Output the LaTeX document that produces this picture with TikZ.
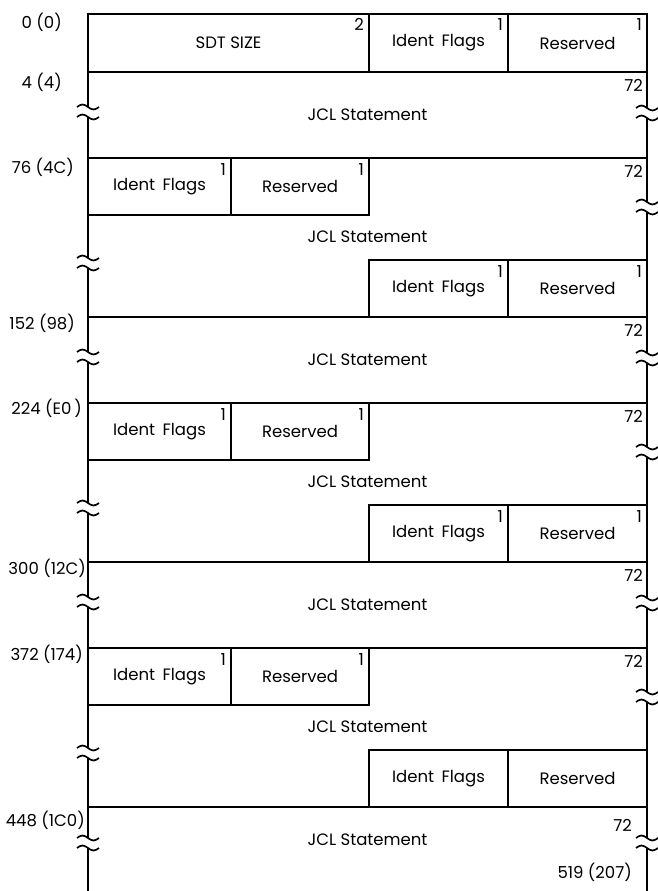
\documentclass[tikz,border=0pt]{standalone}
\usepackage{fontspec}
\setmainfont{Poppins}
\usetikzlibrary{positioning}

\begin{document}
\begin{tikzpicture}[x=1pt,y=-1pt,font=\fontsize{16.5}{18}\selectfont,
  fld/.style={draw,line width=1.3pt,inner sep=0pt,outer sep=0pt,anchor=north west,minimum height=57pt},
  len/.style={inner sep=0pt,anchor=north east},
  addr/.style={inner sep=0pt,anchor=east},
  rule/.style={line width=2.6pt},
  breakmark/.pic={\fill[white] (-2.5,-5) rectangle (2.5,5);
    \draw[line width=1.7pt] (-11,-5) sin (-5.5,-7.5) cos (0,-5) sin (5.5,-2.5) cos (11,-5);
    \draw[line width=1.7pt] (-11,5) sin (-5.5,2.5) cos (0,5) sin (5.5,7.5) cos (11,5);}]
\useasboundingbox (0,0) rectangle (657,891);
% frame
\draw[rule] (88,13) -- (88,891);
\draw[rule] (647,13) -- (647,891);
\draw[line width=2pt] (88,14) -- (647,14);
% header word
\node[fld,minimum width=281pt,minimum height=58pt] (size) at (88,14) {SDT SIZE};
\node[fld,minimum width=139pt,minimum height=58pt] (hflags) at (size.north east) {Ident\hspace{.45em}Flags};
\node[fld,minimum width=139pt,minimum height=58pt] (hres) at (hflags.north east) {Reserved};
\node[len] at ([shift={(-5,4)}]size.north east) {2};
\node[len] at ([shift={(-5,4)}]hflags.north east) {1};
\node[len] at ([shift={(-5,4)}]hres.north east) {1};
% statements
\foreach \k in {0,1,2}{
  \pgfmathsetmacro\y{72+245*\k}
  \node[fld,minimum width=559pt,minimum height=86pt] (jcl\k) at (88,\y) {JCL Statement};
  \node[len] at ([shift={(-4,7)}]jcl\k.north east) {72};
  \node[fld,minimum width=143pt] (lf\k) at (jcl\k.south west) {Ident\hspace{.45em}Flags};
  \node[fld,minimum width=138pt] (lr\k) at (lf\k.north east) {Reserved};
  \node[len] at ([shift={(-5,5)}]lf\k.north east) {1};
  \node[len] at ([shift={(-5,5)}]lr\k.north east) {1};
  \node[len] at ([shift={(-4,7)}]jcl\k.south east) {72};
  \node (mid\k) at (367.5,\y+165) {JCL Statement};
  \node[fld,minimum width=139pt] (rf\k) at (369,\y+188) {Ident\hspace{.45em}Flags};
  \node[fld,minimum width=139pt] (rr\k) at (rf\k.north east) {Reserved};
  \ifnum\k<2
    \node[len] at ([shift={(-5,5)}]rf\k.north east) {1};
    \node[len] at ([shift={(-5,5)}]rr\k.north east) {1};
  \fi
  \pic at (88,\y+40) {breakmark};
  \pic at (88,\y+191) {breakmark};
  \pic at (647,\y+41) {breakmark};
  \pic at (647,\y+135) {breakmark};
}
% last statement
\draw[line width=1.3pt] (88,807) -- (rr2.south east);
\node (jcllast) at (367.5,840) {JCL Statement};
\node[addr] (lenlast) at (632,825) {72};
\node[addr] (endaddr) at (632,872) {519 (207)};
\pic at (88,843) {breakmark};
\pic at (647,843) {breakmark};
% offsets
\node[addr] (a0) at (62,22) {0 (0)};
\node[addr] (a4) at (62,82) {4 (4)};
\node[addr] (a76) at (74,167) {76 (4C)};
\node[addr] (a152) at (75,323) {152 (98)};
\node[addr] (a224) at (82,408) {224 (E0\,)};
\node[addr] (a300) at (86,568) {300 (12C)};
\node[addr] (a372) at (83,654) {372 (174)};
\node[addr] (a448) at (85,820) {448 (1C0)};
\end{tikzpicture}
\end{document}
